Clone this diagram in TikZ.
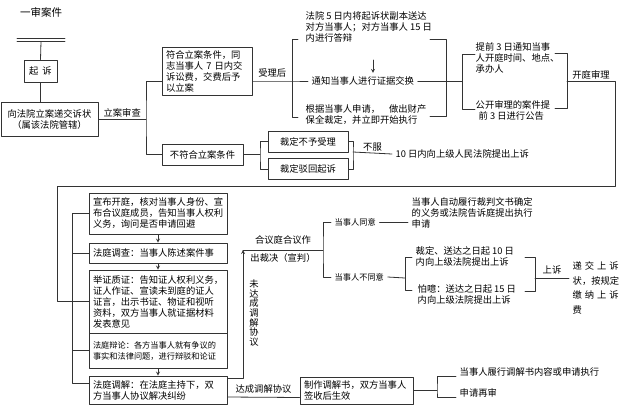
\documentclass[tikz,border=0pt]{standalone}
\usepackage{fontspec}
\setmainfont{Noto Sans CJK SC}
\begin{document}
\begin{tikzpicture}[x=1pt,y=-1pt, font=\fontsize{9.3}{11}\selectfont, line join=round, line cap=round, >=stealth, line width=.8pt,
	box/.style={draw=black!80, inner xsep=4pt, inner ysep=2pt, align=left},
	lbl/.style={inner sep=1pt},
	txt/.style={anchor=west, align=left},
	small/.style={font=\fontsize{8.2}{11}\selectfont}]
	\useasboundingbox (0,0) rectangle (640,418);
	% left column: filing
	\node (title) at (41,12) {\fontsize{10.5}{12}\selectfont 一审案件};
	\draw[black!80] (17,38.5)--(65,38.5) (17,41.5)--(65,41.5);
	\coordinate (top) at (41,41.5);
	\node[box, minimum width=33pt, minimum height=22pt] (qisu) at (40.5,71) {起\hspace{4pt}诉};
	\node[box, align=center, text width=89pt, minimum height=34pt] (xiang) at (49.5,119) {向法院立案递交诉状\\（属该法院管辖）};
	\node[box, text width=82pt, minimum height=48pt] (fuhe) at (207,71) {符合立案条件，同\\志当事人 7 日内交\\诉讼费，交费后予\\以立案};
	\node[box, minimum width=81pt, minimum height=21pt] (bufu) at (202.5,154.5) {不符合立案条件};
	\node[box, minimum width=80pt, minimum height=21pt] (buyu) at (308,141.5) {裁定不予受理};
	\node[box, minimum width=80pt, minimum height=21pt] (bohui) at (308,169) {裁定驳回起诉};
	\node[txt] (shangsu10) at (392,154) {10 日内向上级人民法院提出上诉};
	% accepted case
	\node[txt] (fayuan5) at (302,27) {法院 5 日内将起诉状副本送达\\对方当事人；对方当事人 15 日\\内进行答辩};
	\node[txt] (tongzhi) at (308,81) {通知当事人进行证据交换};
	\node[txt] (genju) at (302,115) {根据当事人申请，\hspace{9pt}做出财产\\保全裁定，并立即开始执行};
	\node[txt] (tiqian3) at (472,58) {提前 3 日通知当事\\人开庭时间、地点、\\承办人};
	\node[txt] (gongkai) at (472,110) {公开审理的案件提\\\hspace{3pt}前 3 日进行公告};
	% hearing
	\node[box, text width=130pt, minimum height=41pt] (xuanbu) at (158,213.5) {宣布开庭，核对当事人身份、宣\\布合议庭成员，告知当事人权利\\义务，询问是否申请回避};
	\node[box, text width=130pt, minimum height=20pt] (diaocha) at (158,253) {法庭调查：当事人陈述案件事};
	\node[box, text width=130pt, minimum height=63pt] (juzheng) at (158,301.5) {举证质证：告知证人权利义务，\\证人作证、宣读未到庭的证人\\证言，出示书证、物证和视听\\资料，双方当事人就证据材料\\发表意见};
	\node[box, small, text width=130pt, minimum height=35pt] (bianlun) at (158,350.5) {法庭辩论：各方当事人就有争议的\\事实和法律问题，进行辩驳和论证};
	\node[box, text width=130pt, minimum height=28pt] (tiaojie) at (158,390) {法庭调解：在法庭主持下，双\\方当事人协议解决纠纷};
	\node[box, text width=105pt, minimum height=27pt] (zhizuo) at (356.5,390.5) {制作调解书，双方当事人\\签收后生效};
	\node[txt] (lvxing) at (456,372) {当事人履行调解书内容或申请执行};
	\node[txt] (zaishen) at (456,393) {申请再审};
	% judgment
	\node[txt, small] (tongyi) at (331,222) {当事人同意};
	\node[txt, small] (butongyi) at (331,277) {当事人不同意};
	\node[txt] (zidong) at (408,213) {当事人自动履行裁判文书确定\\的义务或法院告诉庭提出执行\\申请};
	\node[txt] (caiding) at (412,256) {裁定、送达之日起 10 日\\内向上级法院提出上诉};
	\node[txt] (panjue) at (414,294) {怕噫：送达之日起 15 日\\内向上级法院提出上诉};
	\node[txt, font=\fontsize{9.3}{14.5}\selectfont] (dijiao) at (569,288) {\makebox[46pt]{递\hfill 交\hfill 上\hfill 诉}\\状，按规定\\\makebox[46pt]{缴\hfill 纳\hfill 上\hfill 诉}\\费};
	\node[lbl, align=center, font=\fontsize{9.3}{9.6}\selectfont] (wei) at (254,313) {未\\达\\成\\调\\解\\协\\议};
	
	\begin{scope}[draw=black!80]
	\coordinate (sp1) at (146,119);
	\coordinate (sp2) at (260,154.5);
	\coordinate (sp3) at (353,152);
	\coordinate (sp4) at (292,81);
	\coordinate (sp5) at (462,81);
	\coordinate (sp6) at (567,81);
	\coordinate (sp7) at (243,250);
	\coordinate (sp8) at (323,250);
	\coordinate (sp9) at (405,278);
	\coordinate (sp10) at (535,278);
	\coordinate (sp11) at (437,390.5);
	\coordinate (ar) at (373,60);
	\draw (top)--(qisu.north);
	\draw (qisu.south)--(qisu.south |- xiang.north);
	\draw (xiang.east)-- node[above,lbl]{立案审查} (sp1);
	\draw ([yshift=-10pt]fuhe.west) -| (sp1) |- (bufu.west);
	\draw (bufu.east)--(sp2);
	\draw (buyu.west) -| (sp2) |- (bohui.west);
	\draw (buyu.east) -| (sp3) |- (bohui.east);
	\draw (sp3)-- node[above,lbl]{不服} (shangsu10.west);
	\draw ([yshift=-10pt]fuhe.east)-- node[above=2pt,lbl]{受理后} (sp4)--(tongzhi.west);
	\draw (298,39)--(292,39)--(292,117)--(298,117);
	\draw[->] (ar)--(ar |- tongzhi.north);
	\draw (tongzhi.east)--(sp5);
	\draw (430,39)--(446,39)--(446,116)--(430,116);
	\draw (475,54)--(462,54)--(462,109)--(475,109);
	\draw (555,53)--(567,53)--(567,108)--(555,108);
	\draw (sp6)-- node[above,lbl]{开庭审理} ++(48,0) |- (57,186) |- (juzheng.west);
	\draw (xuanbu.west)--++(-16,0) |- ([yshift=7pt]tiaojie.west);
	\foreach \n in {diaocha,bianlun} \draw (\n.west)--++(-16,0);
	\draw[->] (xuanbu.south)--(diaocha.north);
	\draw[->] (diaocha.south)--(juzheng.north);
	\draw[->] (bianlun.south)--(tiaojie.north);
	\draw[->] ([yshift=12pt]tiaojie.east) -| (sp7);
	\draw (sp7)-- node[above=4pt,lbl]{合议庭合议作} node[below=2pt,lbl]{出裁决（宣判）} (sp8);
	\draw (tongyi.west) -| (sp8) |- (butongyi.west);
	\draw (tongyi.east)--(tongyi.east -| zidong.west);
	\draw (butongyi.east)--(sp9);
	\draw (412,257)--(405,257)--(405,290)--(412,290);
	\draw (525,257)--(535,257)--(535,291)--(525,291);
	\draw (sp10)-- node[above=2pt,lbl]{上诉} (dijiao.west |- sp10);
	\draw ([yshift=-7pt]tiaojie.east)-- node[above=3pt,lbl]{达成调解协议} ([yshift=-7pt]zhizuo.west);
	\draw (zhizuo.east)--(sp11);
	\draw ([yshift=-4pt]lvxing.west) -| (sp11) |- ([yshift=-4pt]zaishen.west);
	\end{scope}
\end{tikzpicture}
\end{document}
